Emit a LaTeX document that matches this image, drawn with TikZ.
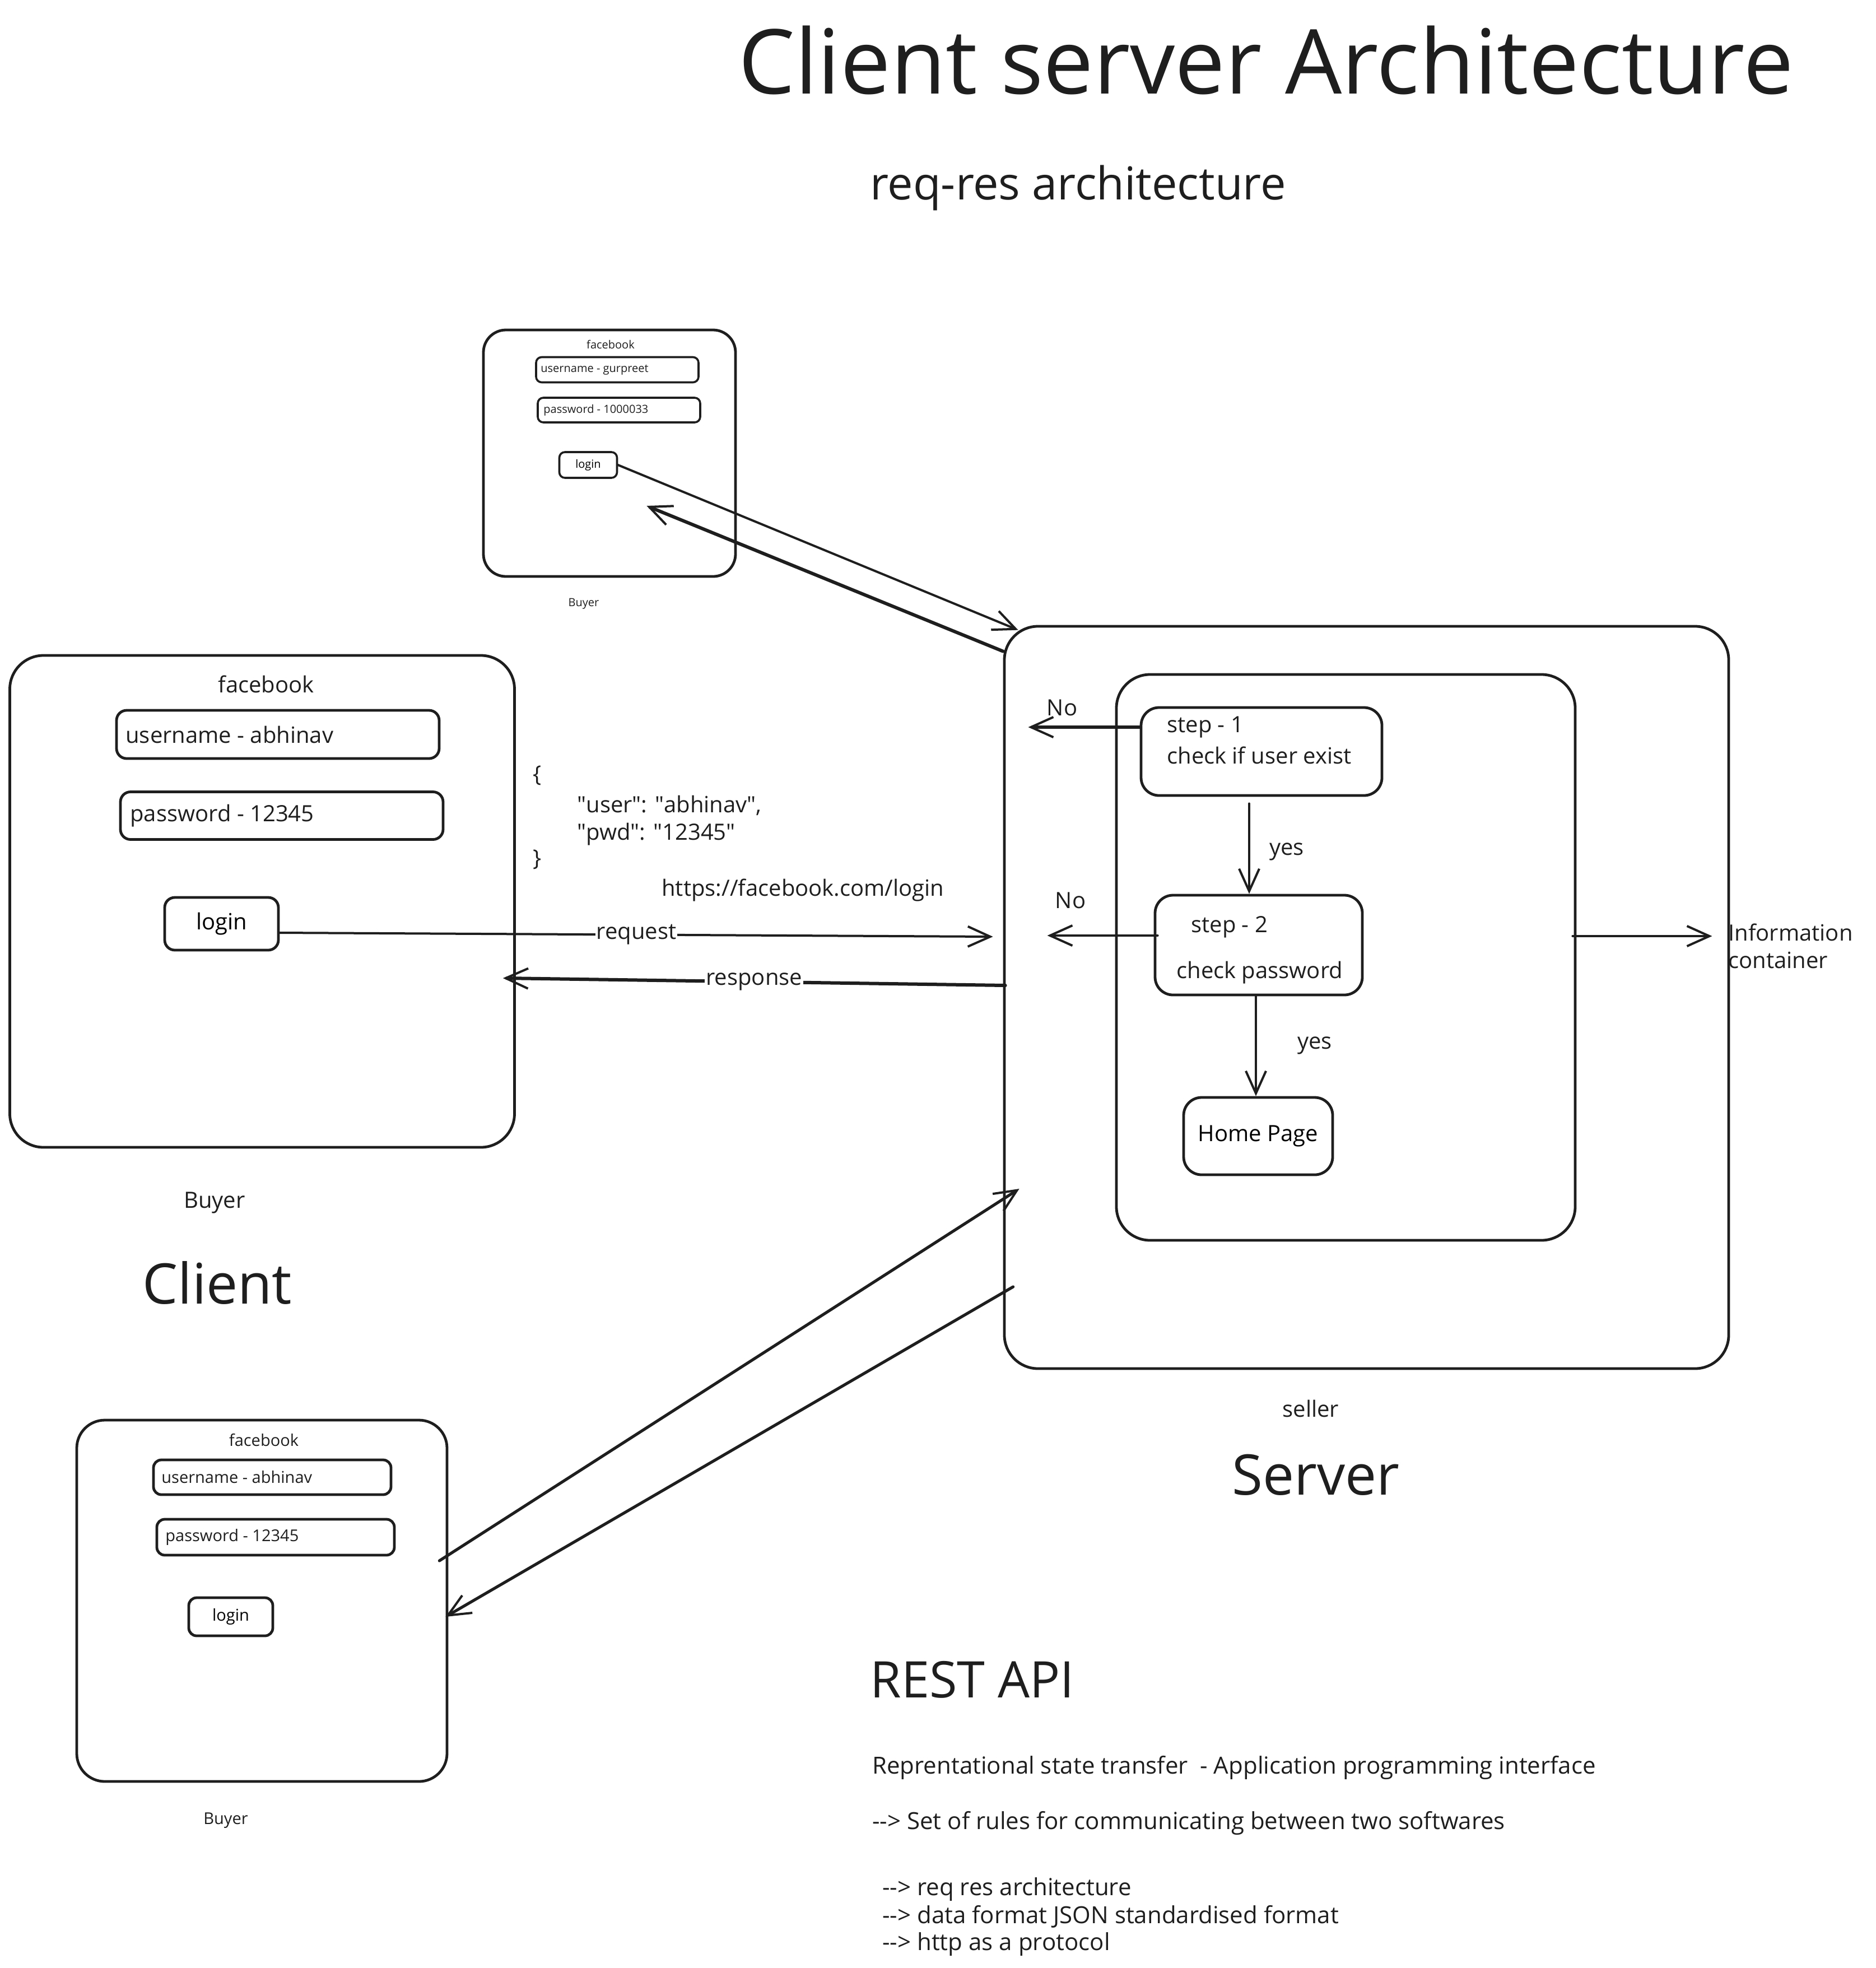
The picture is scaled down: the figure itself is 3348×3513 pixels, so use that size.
\documentclass[tikz,border=0pt]{standalone}
\usepackage{fontspec}
\setmainfont{Open Sans}
\usetikzlibrary{arrows.meta}
\definecolor{ink}{HTML}{1E1E1E}
\newcommand\arrowtxt{-\kern0pt-\kern0pt>}
\begin{document}
\begin{tikzpicture}[x=0.5pt,y=-0.5pt, line join=round, line cap=round,
  bigbox/.style={draw=ink, line width=2.4pt, rounded corners=30pt, inner sep=0pt},
  fieldbox/.style={draw=ink, line width=2.4pt, rounded corners=9pt, inner sep=0pt},
  sfield/.style={draw=ink, line width=1.8pt, rounded corners=5pt, inner sep=0pt},
  txt/.style={inner sep=0pt, text=ink},
  fxx/.style={font=\fontsize{10pt}{12.5pt}\selectfont},
  fmid/.style={font=\fontsize{14.5pt}{18pt}\selectfont},
  fn/.style={font=\fontsize{20pt}{25pt}\selectfont},
  fnote/.style={font=\fontsize{21pt}{26pt}\selectfont},
  fbig/.style={font=\fontsize{50pt}{60pt}\selectfont},
  arr/.style={draw=ink, line width=2pt, -{Straight Barb[length=20pt,width=18pt,line width=2pt]}},
  lbl/.style={fill=white, inner sep=1pt, text=ink, font=\fontsize{20pt}{25pt}\selectfont}]
\useasboundingbox[fill=white] (0,0) rectangle (3348,3513);

% titles
\node[txt, anchor=west, font=\fontsize{80pt}{96pt}\selectfont] (title) at (1318,107) {Client server Architecture};
\node[txt, anchor=west, font=\fontsize{40.5pt}{48pt}\selectfont] (sub) at (1553,335) {req-res architecture};

% small top client
\node[bigbox, rounded corners=20pt, minimum width=225pt, minimum height=220pt] (sbox) at (1088,809) {};
\node[txt,fxx] (sfb) at (1090,615) {facebook};
\node[sfield, minimum width=145pt, minimum height=22.5pt] (su) at (1102,660) {};
\node[txt,fxx,anchor=west] (sut) at (965,660) {username - gurpreet};
\node[sfield, minimum width=145pt, minimum height=22pt] (sp) at (1105,732) {};
\node[txt,fxx,anchor=west] (spt) at (970,732) {password - 1000033};
\node[sfield, minimum width=51.5pt, minimum height=23pt, fxx] (slogin) at (1050,830) {login};
\node[txt,fxx] (sbuyer) at (1042,1078) {Buyer};

% main client
\node[bigbox, minimum width=450.5pt, minimum height=439pt] (cbox) at (468,1609) {};
\node[txt,fn] (cfb) at (475,1221) {facebook};
\node[fieldbox, minimum width=288pt, minimum height=43pt] (cu) at (496,1311) {};
\node[txt,fn,anchor=west] (cut) at (224,1311) {username - abhinav};
\node[fieldbox, minimum width=288pt, minimum height=42.5pt] (cp) at (503,1456) {};
\node[txt,fn,anchor=west] (cpt) at (232,1456) {password - 12345};
\node[fieldbox, minimum width=101.5pt, minimum height=47pt, fn] (clogin) at (395.5,1649) {login};
\node[txt,fn] (cbuyer) at (383,2147) {Buyer};
\node[txt,fbig] (client) at (388,2290) {Client};

% json + url
\node[txt,fn,anchor=west] (jo) at (951,1384) {\{};
\node[txt,fn,anchor=west] (j1) at (1030,1438) {\textquotedbl user\textquotedbl: \textquotedbl abhinav\textquotedbl,};
\node[txt,fn,anchor=west] (j2) at (1030,1489) {\textquotedbl pwd\textquotedbl: \textquotedbl 12345\textquotedbl};
\node[txt,fn,anchor=west] (jc) at (951,1534) {\}};
\node[txt,fn,anchor=west] (url) at (1181,1589) {https://facebook.com/login};

% server
\node[bigbox, minimum width=646.5pt, minimum height=662.5pt] (srv) at (2439.5,1780.5) {};
\node[bigbox, minimum width=409.5pt, minimum height=505pt] (inner) at (2402.5,1709) {};
\node[fieldbox, rounded corners=16pt, minimum width=215pt, minimum height=78.5pt] (step1) at (2252,1341.5) {};
\node[txt,fn,anchor=west] (s1a) at (2083,1298) {step - 1};
\node[txt,fn,anchor=west] (s1b) at (2083,1348) {check if user exist};
\node[fieldbox, rounded corners=16pt, minimum width=185pt, minimum height=89pt] (step2) at (2247,1687) {};
\node[txt,fn,anchor=west] (s2a) at (2126,1655) {step - 2};
\node[txt,fn,anchor=west] (s2b) at (2100,1736) {check password};
\node[fieldbox, rounded corners=16pt, minimum width=133pt, minimum height=69pt, fn] (home) at (2246,2028) {Home Page};

\draw[arr] ([xshift=-11pt,yshift=-6pt]step1.south) -- ([xshift=-8.5pt]step2.north);
\node[txt,fn] (yes1) at (2297,1520) {yes};
\draw[arr] ([xshift=-2.5pt]step2.south) -- ([xshift=-2pt]home.north);
\node[txt,fn] (yes2) at (2347,1866) {yes};
\draw[arr, line width=2.6pt] ([yshift=21.75pt]step1.west) -- ([xshift=-99.5pt,yshift=21.75pt]step1.west);
\node[txt,fn] (no1) at (1896,1263) {No};
\draw[arr] ([xshift=3.5pt,yshift=8.5pt]step2.west) -- ([xshift=-95pt,yshift=8.5pt]step2.west);
\node[txt,fn] (no2) at (1911,1607) {No};
\draw[arr] ([xshift=-3.5pt,yshift=19pt]inner.east) -- ([xshift=121pt,yshift=19pt]inner.east);
\node[txt,fn,anchor=west] (info1) at (3085,1664) {Information};
\node[txt,fn,anchor=west] (info2) at (3085,1714) {container};
\node[txt,fn] (seller) at (2340,2514) {seller};
\node[txt,fbig] (server) at (2349,2633) {Server};

% bottom client
\node[bigbox, rounded corners=25pt, minimum width=330.5pt, minimum height=322.5pt] (bbox) at (467.5,2857.5) {};
\node[txt,fmid] (bfb) at (471,2571) {facebook};
\node[fieldbox, rounded corners=7pt, minimum width=212pt, minimum height=31pt] (bu) at (486,2637) {};
\node[txt,fmid,anchor=west] (but) at (288,2637) {username - abhinav};
\node[fieldbox, rounded corners=7pt, minimum width=212pt, minimum height=32pt] (bp) at (492,2744) {};
\node[txt,fmid,anchor=west] (bpt) at (295,2744) {password - 12345};
\node[fieldbox, rounded corners=7pt, minimum width=75pt, minimum height=34pt, fmid] (blogin) at (412,2886) {login};
\node[txt,fmid] (bbuyer) at (403,3250) {Buyer};

% request / response
\draw[arr] ([yshift=-8pt]clogin.east) -- node[lbl, pos=0.5] {request} ([xshift=-9pt,yshift=54.25pt]srv.west);
\draw[arr, line width=3pt] ([xshift=2pt,yshift=10.75pt]srv.west) -- node[lbl, pos=0.5] {response} ([xshift=-11.5pt,yshift=-68.5pt]cbox.east);

% top client arrows
\draw[arr] (slogin.east) -- ([xshift=13.5pt,yshift=-4.5pt]srv.north west);
\draw[arr, line width=3pt] ([yshift=-23.5pt]srv.north west) -- ([xshift=-80.5pt,yshift=-47pt]sbox.east);

% bottom client arrows
\draw[arr, line width=2.6pt] ([xshift=-8pt,yshift=35.75pt]bbox.east) -- ([xshift=14.5pt,yshift=-170.75pt]srv.west);
\draw[arr, line width=2.6pt] ([xshift=9pt,yshift=-258.25pt]srv.west) -- ([xshift=-2.5pt,yshift=-14.25pt]bbox.east);

% REST API notes
\node[txt, anchor=west, font=\fontsize{45pt}{54pt}\selectfont] (rest) at (1553,2998) {REST API};
\node[txt,fnote,anchor=west] (r1) at (1557,3155) {Reprentational state transfer \ - Application programming interface};
\node[txt,fnote,anchor=west] (r2) at (1557,3254) {\arrowtxt{} Set of rules for communicating between two softwares};
\node[txt,fnote,anchor=west] (r3) at (1575,3373) {\arrowtxt{} req res architecture};
\node[txt,fnote,anchor=west] (r4) at (1575,3421) {\arrowtxt{} data format JSON standardised format};
\node[txt,fnote,anchor=west] (r5) at (1575,3471) {\arrowtxt{} http as a protocol};
\end{tikzpicture}
\end{document}
